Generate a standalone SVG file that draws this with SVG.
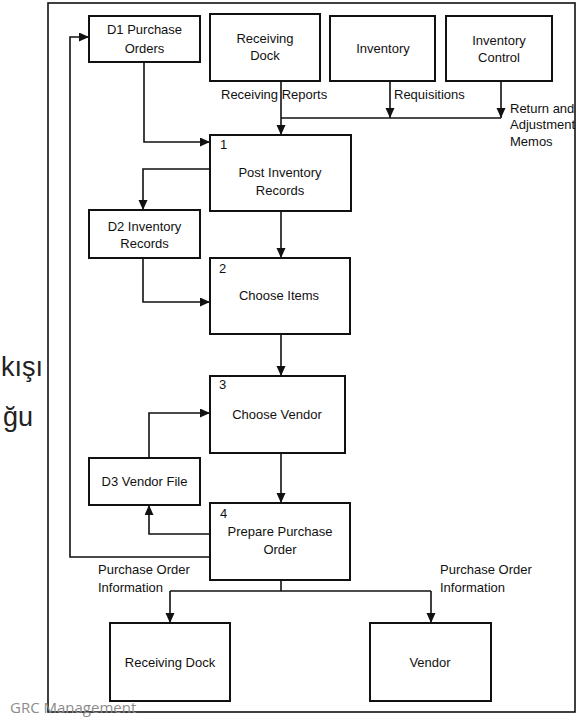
<svg xmlns="http://www.w3.org/2000/svg" width="583" height="718" viewBox="0 0 583 718">
<defs>
<marker id="ah" markerUnits="userSpaceOnUse" markerWidth="11" markerHeight="10" refX="10" refY="4.5" orient="auto">
<path d="M0,0 L10,4.5 L0,9 z" fill="#111"/>
</marker>
<style>
.box{fill:#fff;stroke:#111;stroke-width:2}
.t{font-family:"Liberation Sans",Arial,sans-serif;font-size:13px;fill:#111}
.c{text-anchor:middle}
.ln{fill:none;stroke:#111;stroke-width:1.6}
</style>
</defs>
<rect width="583" height="718" fill="#fff"/>
<text x="43" y="376" text-anchor="end" font-family="Liberation Sans,Arial,sans-serif" font-size="27" fill="#222">kışı</text>
<text x="33" y="426" text-anchor="end" font-family="Liberation Sans,Arial,sans-serif" font-size="27" fill="#222">ğu</text>
<rect id="frame" x="48" y="3" width="527" height="709" fill="#fff" stroke="#111" stroke-width="1.6"/>
<g id="connectors" class="ln">
<path d="M144,62 V142 H210" marker-end="url(#ah)"/>
<path d="M281,81 V135" marker-end="url(#ah)"/>
<path d="M281,118 H501"/>
<path d="M390,81 V118" marker-end="url(#ah)"/>
<path d="M501,81 V118" marker-end="url(#ah)"/>
<path d="M210,169 H143 V210" marker-end="url(#ah)"/>
<path d="M281,211 V258" marker-end="url(#ah)"/>
<path d="M143,258 V302 H210" marker-end="url(#ah)"/>
<path d="M281,334 V376" marker-end="url(#ah)"/>
<path d="M149,458 V413 H210" marker-end="url(#ah)"/>
<path d="M281,453 V503" marker-end="url(#ah)"/>
<path d="M210,534 H149 V505" marker-end="url(#ah)"/>
<path d="M210,557 H70 V37 H89" marker-end="url(#ah)"/>
<path d="M281,580 V591"/>
<path d="M170,591 H431"/>
<path d="M170,591 V623" marker-end="url(#ah)"/>
<path d="M431,591 V623" marker-end="url(#ah)"/>
</g>
<g id="labels" class="t">
<text x="221" y="99">Receiving Reports</text>
<text x="394" y="99">Requisitions</text>
<text x="510" y="113">Return and</text>
<text x="510" y="129">Adjustment</text>
<text x="510" y="146">Memos</text>
<text x="98" y="574">Purchase Order</text>
<text x="98" y="592">Information</text>
<text x="440" y="574">Purchase Order</text>
<text x="440" y="592">Information</text>
</g>
<g id="d1">
<rect class="box" x="89" y="16" width="111" height="46"/>
<text class="t c" x="144.5" y="34">D1 Purchase</text>
<text class="t c" x="144.5" y="53">Orders</text>
</g>
<g id="receiving-dock-top">
<rect class="box" x="210" y="14" width="110" height="67"/>
<text class="t c" x="265" y="43">Receiving</text>
<text class="t c" x="265" y="60">Dock</text>
</g>
<g id="inventory">
<rect class="box" x="330" y="16" width="105" height="65"/>
<text class="t c" x="383" y="53">Inventory</text>
</g>
<g id="inventory-control">
<rect class="box" x="446" y="16" width="106" height="65"/>
<text class="t c" x="499" y="45">Inventory</text>
<text class="t c" x="499" y="62">Control</text>
</g>
<g id="p1">
<rect class="box" x="210" y="135" width="141" height="76"/>
<text class="t" x="220" y="149">1</text>
<text class="t c" x="280" y="177">Post Inventory</text>
<text class="t c" x="280" y="195">Records</text>
</g>
<g id="d2">
<rect class="box" x="89" y="210" width="111" height="48"/>
<text class="t c" x="144.5" y="231">D2 Inventory</text>
<text class="t c" x="144.5" y="248">Records</text>
</g>
<g id="p2">
<rect class="box" x="210" y="258" width="140" height="76"/>
<text class="t" x="219" y="273">2</text>
<text class="t c" x="279" y="300">Choose Items</text>
</g>
<g id="p3">
<rect class="box" x="210" y="376" width="135" height="77"/>
<text class="t" x="219" y="389">3</text>
<text class="t c" x="277" y="419">Choose Vendor</text>
</g>
<g id="d3">
<rect class="box" x="89" y="458" width="111" height="47"/>
<text class="t c" x="144.5" y="486">D3 Vendor File</text>
</g>
<g id="p4">
<rect class="box" x="210" y="503" width="140" height="77"/>
<text class="t" x="220" y="518">4</text>
<text class="t c" x="280" y="536">Prepare Purchase</text>
<text class="t c" x="280" y="554">Order</text>
</g>
<g id="receiving-dock-bottom">
<rect class="box" x="110" y="623" width="120" height="78"/>
<text class="t c" x="170" y="667">Receiving Dock</text>
</g>
<g id="vendor">
<rect class="box" x="370" y="623" width="121" height="78"/>
<text class="t c" x="430" y="667">Vendor</text>
</g>
<text x="10" y="713" font-family="Open Sans,Liberation Sans,sans-serif" font-size="15" fill="#8c8c8c">GRC Management</text>
</svg>
